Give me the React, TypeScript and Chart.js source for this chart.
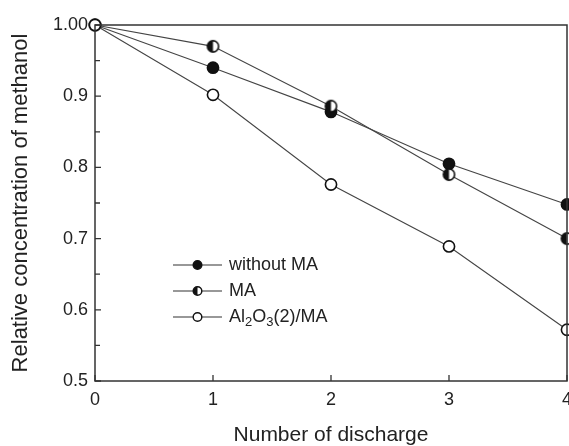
import React, { useEffect, useRef } from 'react';
import { Chart, registerables } from 'chart.js';

Chart.register(...registerables);

// ---- data ----
const discharges = [0, 1, 2, 3, 4];
const withoutMA = [1.0, 0.94, 0.878, 0.805, 0.748];
const withMA = [1.0, 0.97, 0.886, 0.79, 0.7];
const al2o3MA = [1.0, 0.902, 0.776, 0.689, 0.572];
const seriesLabels = ['without MA', 'MA', 'Al2O3(2)/MA'];
const xTickValues = [0, 1, 2, 3, 4];
const yTickValues = [0.5, 0.6, 0.7, 0.8, 0.9, 1.0];

const FONT = '"Liberation Sans", Arial, Helvetica, sans-serif';
const INK = '#222';

function makeHalfMarker(r: number, bw: number) {
  const size = Math.ceil(2 * r + 2 * bw + 2);
  const c = document.createElement('canvas');
  c.width = size;
  c.height = size;
  const g = c.getContext('2d')!;
  const cx = size / 2;
  const cy = size / 2;
  g.beginPath();
  g.arc(cx, cy, r, 0, Math.PI * 2);
  g.fillStyle = '#fff';
  g.fill();
  g.beginPath();
  g.moveTo(cx, cy);
  g.arc(cx, cy, r, Math.PI / 2, Math.PI * 1.5);
  g.closePath();
  g.fillStyle = '#111';
  g.fill();
  g.beginPath();
  g.arc(cx, cy, r, 0, Math.PI * 2);
  g.lineWidth = bw;
  g.strokeStyle = '#111';
  g.stroke();
  return c;
}

function drawMarker(ctx: CanvasRenderingContext2D, kind: number, x: number, y: number, r: number, bw: number) {
  ctx.beginPath();
  ctx.arc(x, y, r, 0, Math.PI * 2);
  ctx.fillStyle = kind === 0 ? '#111' : '#fff';
  ctx.fill();
  if (kind === 1) {
    ctx.beginPath();
    ctx.moveTo(x, y);
    ctx.arc(x, y, r, Math.PI / 2, Math.PI * 1.5);
    ctx.closePath();
    ctx.fillStyle = '#111';
    ctx.fill();
  }
  ctx.beginPath();
  ctx.arc(x, y, r, 0, Math.PI * 2);
  ctx.lineWidth = bw;
  ctx.strokeStyle = '#111';
  ctx.stroke();
}

// text with chemical subscripts: digit right after a letter is a subscript
function drawChemText(ctx: CanvasRenderingContext2D, text: string, x: number, y: number, size: number) {
  let cx = x;
  for (let i = 0; i < text.length; i++) {
    const ch = text[i];
    const isSub = /[0-9]/.test(ch) && i > 0 && /[A-Za-z]/.test(text[i - 1]);
    if (isSub) {
      ctx.font = `${Math.round(size * 0.7)}px ${FONT}`;
      ctx.fillText(ch, cx, y + size * 0.32);
    } else {
      ctx.font = `${size}px ${FONT}`;
      ctx.fillText(ch, cx, y);
    }
    cx += ctx.measureText(ch).width;
  }
}

const decorPlugin = {
  id: 'decor',
  afterDatasetsDraw(chart: any) {
    const { ctx, chartArea: a, scales } = chart;
    ctx.save();
    ctx.strokeStyle = '#333';
    ctx.lineWidth = 1.5;
    ctx.strokeRect(a.left, a.top, a.right - a.left, a.bottom - a.top);
    ctx.lineWidth = 1.3;
    const ys = scales.y;
    const yt = ys.ticks;
    ctx.beginPath();
    for (let i = 0; i < yt.length; i++) {
      const p = ys.getPixelForValue(yt[i].value);
      ctx.moveTo(a.left, p);
      ctx.lineTo(a.left + 6, p);
      if (i < yt.length - 1) {
        const m = ys.getPixelForValue((yt[i].value + yt[i + 1].value) / 2);
        ctx.moveTo(a.left, m);
        ctx.lineTo(a.left + 5, m);
      }
    }
    const xs = scales.x;
    xs.ticks.forEach((t: any) => {
      const p = xs.getPixelForValue(t.value);
      ctx.moveTo(p, a.bottom);
      ctx.lineTo(p, a.bottom - 6);
    });
    ctx.stroke();
    ctx.restore();
  },
  afterDraw(chart: any) {
    const { ctx, chartArea: a } = chart;
    ctx.save();
    const x0 = a.left + 78;
    const x1 = a.left + 127;
    const xm = (x0 + x1) / 2;
    const rowY = [a.top + 240, a.top + 266, a.top + 292];
    seriesLabels.forEach((lab, i) => {
      const y = rowY[i];
      ctx.beginPath();
      ctx.moveTo(x0, y);
      ctx.lineTo(x1, y);
      ctx.lineWidth = 1.2;
      ctx.strokeStyle = '#333';
      ctx.stroke();
      drawMarker(ctx, i, xm, y, 4.3, 1.4);
      ctx.fillStyle = INK;
      ctx.textBaseline = 'middle';
      ctx.textAlign = 'left';
      drawChemText(ctx, lab, x1 + 7, y, 18);
    });
    ctx.restore();
  },
};

export default function App() {
  const ref = useRef<HTMLCanvasElement | null>(null);

  useEffect(() => {
    if (!ref.current) return;
    const half = makeHalfMarker(5.6, 1.6);
    const toPts = (vals: number[]) => vals.map((v, i) => ({ x: discharges[i], y: v }));
    const common = {
      borderColor: '#444',
      borderWidth: 1.1,
      pointRadius: 5.6,
      pointHoverRadius: 5.6,
      pointBorderWidth: 1.6,
      pointBorderColor: '#111',
      clip: false as any,
      tension: 0,
    };
    const chart = new Chart(ref.current, {
      type: 'line',
      data: {
        datasets: [
          { ...common, label: seriesLabels[0], data: toPts(withoutMA), pointBackgroundColor: '#111', pointStyle: 'circle', order: 2 },
          { ...common, label: seriesLabels[1], data: toPts(withMA), pointBackgroundColor: '#fff', pointStyle: half as any, order: 1 },
          { ...common, label: seriesLabels[2], data: toPts(al2o3MA), pointBackgroundColor: '#fff', pointStyle: 'circle', order: 0 },
        ],
      },
      options: {
        responsive: false,
        animation: false,
        events: [],
        layout: { padding: { top: 25, right: 23, bottom: 0, left: 0 } },
        plugins: { legend: { display: false }, tooltip: { enabled: false } },
        scales: {
          x: {
            type: 'linear',
            min: 0,
            max: 4,
            afterFit: (s: any) => { s.height = 65; },
            afterBuildTicks: (s: any) => { s.ticks = xTickValues.map((v) => ({ value: v })); },
            grid: { display: false, drawTicks: false },
            border: { display: false },
            ticks: {
              color: INK,
              padding: 8,
              font: { family: FONT, size: 18 },
              callback: (v: any) => String(v),
            },
            title: {
              display: true,
              text: 'Number of discharge',
              color: INK,
              font: { family: FONT, size: 21, lineHeight: 1 },
              padding: { top: 0, bottom: 0 },
            },
          },
          y: {
            type: 'linear',
            min: 0.5,
            max: 1.0,
            afterFit: (s: any) => { s.width = 95; },
            afterBuildTicks: (s: any) => { s.ticks = yTickValues.map((v) => ({ value: v })); },
            grid: { display: false, drawTicks: false },
            border: { display: false },
            ticks: {
              color: INK,
              padding: 7,
              font: { family: FONT, size: 18 },
              callback: (v: any) => (Math.abs(v - 1) < 1e-9 ? '1.00' : Number(v).toFixed(1)),
            },
            title: {
              display: true,
              text: 'Relative concentration of methanol',
              color: INK,
              font: { family: FONT, size: 22, lineHeight: 1 },
              padding: { top: 10, bottom: 0 },
            },
          },
        },
      },
      plugins: [decorPlugin],
    });
    return () => chart.destroy();
  }, []);

  return (
    <div style={{ position: 'absolute', left: 0, top: 0, width: 569, height: 446, overflow: 'hidden', background: '#fff' }}>
      <canvas ref={ref} width={590} height={446} style={{ display: 'block', width: 590, height: 446 }} />
    </div>
  );
}
